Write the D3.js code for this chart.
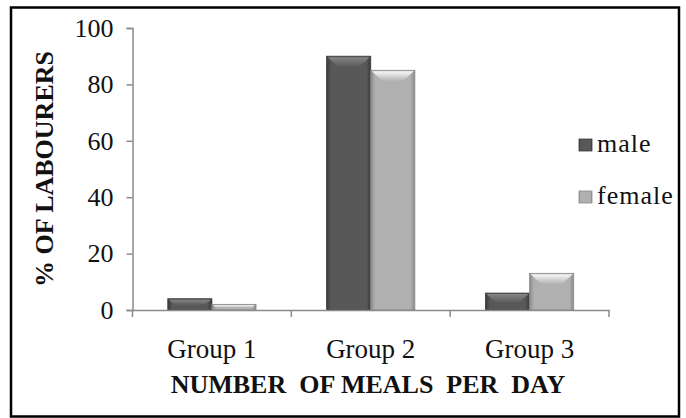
<!DOCTYPE html>
<html>
<head>
<meta charset="utf-8">
<script src="https://cdn.jsdelivr.net/npm/d3@7"></script>
<style>
  body { margin: 0; background: #fff; }
  svg { display: block; }
  svg text { font-family: "Liberation Serif", "Times New Roman", serif; }
  .axis path, .axis line { stroke: #8a8a8a; stroke-width: 1.5; }
  .axis text { font-size: 26px; fill: #111; }
</style>
</head>
<body>
<svg width="686" height="418"></svg>
<script>
var groups = ["Group 1", "Group 2", "Group 3"];
var series = ["male", "female"];
var male = [4, 90, 6];
var female = [2, 85, 13];
var yTicks = [0, 20, 40, 60, 80, 100];

var colors = {male: ["#3a3a3a", "#585858", "#858585"], female: ["#8a8a8a", "#b0b0b0", "#f8f8f8"]};

var svg = d3.select("svg"),
    margin = {top: 28, right: 77, bottom: 108, left: 132.5},
    width = 686 - margin.left - margin.right,
    height = 418 - margin.top - margin.bottom;

var data = groups.map(function(g, i) { return {group: g, male: male[i], female: female[i]}; });

// frame round the whole chart
svg.append("rect")
    .attr("x", 11).attr("y", 7.5)
    .attr("width", 668).attr("height", 409)
    .attr("fill", "none").attr("stroke", "#000").attr("stroke-width", 2.5);

var defs = svg.append("defs");
series.forEach(function(s) {
  var gr = defs.append("linearGradient").attr("id", "grad-" + s).attr("x1", 0).attr("x2", 1);
  gr.append("stop").attr("offset", "0%").attr("stop-color", colors[s][0]);
  gr.append("stop").attr("offset", "10%").attr("stop-color", colors[s][1]);
  gr.append("stop").attr("offset", "90%").attr("stop-color", colors[s][1]);
  gr.append("stop").attr("offset", "100%").attr("stop-color", colors[s][0]);
  var bv = defs.append("linearGradient").attr("id", "bevel-" + s).attr("x1", 0).attr("x2", 0).attr("y1", 0).attr("y2", 1);
  bv.append("stop").attr("offset", "0%").attr("stop-color", colors[s][2]);
  bv.append("stop").attr("offset", "100%").attr("stop-color", colors[s][1]);
});

var x0 = d3.scaleBand().domain(groups).range([0, width]).padding(0);
var x1 = d3.scaleBand().domain(series).range([0, x0.bandwidth()]).paddingInner(0).paddingOuter(0.8);
var y = d3.scaleLinear().domain([0, 100]).range([height, 0]);

var g = svg.append("g")
    .attr("transform", "translate(" + margin.left + "," + margin.top + ")");

var bars = g.selectAll(".grp")
    .data(data)
  .enter().append("g")
    .attr("class", "grp")
    .attr("transform", function(d) { return "translate(" + x0(d.group) + ",0)"; })
  .selectAll(".bar")
    .data(function(d) { return series.map(function(s) { return {key: s, value: d[s]}; }); })
  .enter().append("g")
    .attr("class", "bar");

bars.append("rect")
    .attr("x", function(d) { return x1(d.key); })
    .attr("y", function(d) { return y(d.value); })
    .attr("width", x1.bandwidth())
    .attr("height", function(d) { return height - y(d.value); })
    .attr("fill", function(d) { return "url(#grad-" + d.key + ")"; })
    .attr("stroke", function(d) { return colors[d.key][0]; })
    .attr("stroke-width", 0.8);

// bevel on top of each bar
bars.append("path")
    .attr("d", function(d) {
      var x = x1(d.key), w = x1.bandwidth(), t = y(d.value);
      var b = Math.min(11, (height - t) * 0.6);
      return "M" + (x + 1) + "," + (t + 1) + "H" + (x + w - 1) + "L" + (x + w - 1 - b) + "," + (t + b) + "H" + (x + 1 + b) + "Z";
    })
    .attr("fill", function(d) { return "url(#bevel-" + d.key + ")"; });

var yAxis = g.append("g")
    .attr("class", "axis")
    .attr("font-family", null)
    .call(d3.axisLeft(y).tickValues(yTicks).tickSize(6).tickPadding(13));

var xAxis = g.append("g")
    .attr("class", "axis")
    .attr("transform", "translate(0," + height + ")")
    .call(d3.axisBottom(x0).tickSize(0).tickPadding(29));

g.selectAll(".axis").attr("font-family", null).attr("font-size", null);
xAxis.selectAll("text").style("font-size", "27px");

// tick marks at the group boundaries
xAxis.selectAll(".sep")
    .data(groups.map(function(d) { return x0(d); }).concat([width]))
  .enter().append("line")
    .attr("class", "sep")
    .attr("x1", function(d) { return d; }).attr("x2", function(d) { return d; })
    .attr("y1", 0).attr("y2", 7);

svg.append("text")
    .attr("x", 368).attr("y", 393)
    .attr("text-anchor", "middle")
    .attr("font-size", "26px").attr("font-weight", "bold")
    .attr("fill", "#111")
    .attr("xml:space", "preserve")
    .text("NUMBER  OF MEALS  PER  DAY");

svg.append("text")
    .attr("transform", "translate(53," + (margin.top + height / 2) + ") rotate(-90)")
    .attr("text-anchor", "middle")
    .attr("font-size", "26px").attr("font-weight", "bold")
    .attr("fill", "#111")
    .text("% OF LABOURERS");

var legend = svg.append("g").attr("transform", "translate(579,139)");
var item = legend.selectAll(".item")
    .data(series)
  .enter().append("g")
    .attr("class", "item")
    .attr("transform", function(d, i) { return "translate(0," + (i * 52) + ")"; });

item.append("rect")
    .attr("width", 13).attr("height", 12)
    .attr("fill", function(d) { return "url(#grad-" + d + ")"; })
    .attr("stroke", function(d) { return colors[d][0]; })
    .attr("stroke-width", 0.8);

item.append("text")
    .attr("x", 18).attr("y", 13)
    .attr("font-size", "26px")
    .attr("letter-spacing", "1px")
    .attr("fill", "#111")
    .text(function(d) { return d; });
</script>
</body>
</html>
